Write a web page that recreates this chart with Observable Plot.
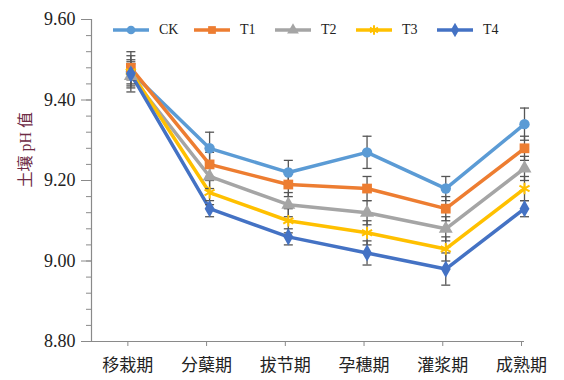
<!DOCTYPE html>
<html>
<head>
<meta charset="utf-8">
<script src="https://cdn.jsdelivr.net/npm/d3@7"></script>
<script src="https://cdn.jsdelivr.net/npm/@observablehq/plot@0.6"></script>
<style>
  html, body { margin: 0; padding: 0; background: #fff; }
  #wrap { position: relative; width: 564px; height: 380px; font-family: "Liberation Serif", "Noto Sans CJK SC", serif; }
  #wrap svg, #wrap svg text { font-family: "Liberation Serif", "Noto Sans CJK SC", serif !important; }
  #legend { position: absolute; left: 113px; top: 22px; display: flex; }
  .item { width: 81px; display: flex; align-items: center; font-size: 14px; color: #222; }
  .item svg { margin-right: 10px; }
</style>
</head>
<body>
<div id="wrap"><div id="legend"></div></div>
<script>
const stages = ["移栽期", "分蘖期", "拔节期", "孕穗期", "灌浆期", "成熟期"];
const seriesNames = ["CK", "T1", "T2", "T3", "T4"];
const colors = ["#5b9bd5", "#ed7d31", "#a5a5a5", "#ffc000", "#4472c4"];
const symbols = ["circle", "square", "triangle", "asterisk", "diamond"];

const ck = [9.47, 9.28, 9.22, 9.27, 9.18, 9.34];
const t1 = [9.48, 9.24, 9.19, 9.18, 9.13, 9.28];
const t2 = [9.46, 9.21, 9.14, 9.12, 9.08, 9.23];
const t3 = [9.47, 9.17, 9.10, 9.07, 9.03, 9.18];
const t4 = [9.465, 9.13, 9.06, 9.02, 8.98, 9.13];

const ckErr = [0.05, 0.04, 0.03, 0.04, 0.03, 0.04];
const t1Err = [0.03, 0.03, 0.03, 0.03, 0.03, 0.03];
const t2Err = [0.03, 0.03, 0.03, 0.03, 0.03, 0.03];
const t3Err = [0.03, 0.03, 0.03, 0.03, 0.03, 0.03];
const t4Err = [0.03, 0.02, 0.02, 0.03, 0.04, 0.02];

const yMajor = [8.8, 9.0, 9.2, 9.4, 9.6];
const yMinor = d3.range(0, 21).map(i => +(8.8 + i * 0.04).toFixed(2));

const values = [ck, t1, t2, t3, t4];
const errs = [ckErr, t1Err, t2Err, t3Err, t4Err];
const rows = seriesNames.map((s, k) => values[k].map((v, i) => ({series: s, k, i, v, e: errs[k][i]})));

const capSymbol = {
  draw(ctx) { ctx.moveTo(-4.5, 0); ctx.lineTo(4.5, 0); }
};

const axisColor = "#8a8a8a";
const marks = [
  Plot.ruleY([8.8], {stroke: axisColor, strokeWidth: 1.2}),
  Plot.ruleX([-0.5], {stroke: axisColor, strokeWidth: 1.2}),
  Plot.axisY({ticks: yMinor, tickSize: 5, tickFormat: () => "", stroke: axisColor, label: null}),
  Plot.axisY({ticks: yMajor, tickSize: 10, tickPadding: 6, tickFormat: d => d.toFixed(2), fontSize: 18, stroke: axisColor, fill: "#222", label: null}),
  Plot.axisX({ticks: d3.range(6), tickSize: 5, tickPadding: 12, tickFormat: i => stages[i], fontSize: 17, stroke: axisColor, fill: "#222", dx: -3, label: null}),
  Plot.text(["土壤 pH 值"], {frameAnchor: "left", rotate: -90, dx: -66, dy: 7, fill: "#6e2b45", fontSize: 16})
];
rows.forEach((r, k) => {
  marks.push(Plot.line(r, {x: "i", y: "v", stroke: colors[k], strokeWidth: 3.5}));
});
rows.forEach((r, k) => {
  marks.push(Plot.ruleX(r, {x: "i", y1: d => d.v - d.e, y2: d => d.v + d.e, stroke: "#555", strokeWidth: 1.3}));
  marks.push(Plot.dot(r, {x: "i", y: d => d.v + d.e, symbol: capSymbol, stroke: "#555", strokeWidth: 1.3, r: 3}));
  marks.push(Plot.dot(r, {x: "i", y: d => d.v - d.e, symbol: capSymbol, stroke: "#555", strokeWidth: 1.3, r: 3}));
});
rows.forEach((r, k) => {
  const sym = symbols[k];
  if (sym === "asterisk") {
    marks.push(Plot.dot(r, {x: "i", y: "v", symbol: sym, stroke: colors[k], strokeWidth: 2, r: 5.5}));
  } else {
    marks.push(Plot.dot(r, {x: "i", y: "v", symbol: sym, fill: colors[k], stroke: "none", r: sym === "square" ? 5.5 : 5.2}));
  }
});

const chart = Plot.plot({
  width: 564, height: 380,
  marginTop: 19, marginBottom: 39, marginLeft: 91, marginRight: 40,
  style: {background: "#fff"},
  x: {type: "linear", domain: [-0.5, 5]},
  y: {domain: [8.8, 9.6]},
  marks
});
const wrap = document.getElementById("wrap");
wrap.insertBefore(chart, wrap.firstChild);
chart.style.position = "absolute";
chart.style.left = "0";
chart.style.top = "0";

const legend = d3.select("#legend");
const symMap = {circle: d3.symbolCircle, square: d3.symbolSquare, triangle: d3.symbolTriangle, asterisk: d3.symbolAsterisk, diamond: d3.symbolDiamond};
seriesNames.forEach((s, k) => {
  const item = legend.append("div").attr("class", "item");
  const svg = item.append("svg").attr("width", 36).attr("height", 14);
  svg.append("line").attr("x1", 0).attr("x2", 36).attr("y1", 7).attr("y2", 7).attr("stroke", colors[k]).attr("stroke-width", 3.5);
  const p = svg.append("path").attr("transform", "translate(18,7)").attr("d", d3.symbol(symMap[symbols[k]], 60)());
  if (symbols[k] === "asterisk") p.attr("fill", "none").attr("stroke", colors[k]).attr("stroke-width", 2);
  else p.attr("fill", colors[k]);
  item.append("span").text(s);
});
</script>
</body>
</html>
